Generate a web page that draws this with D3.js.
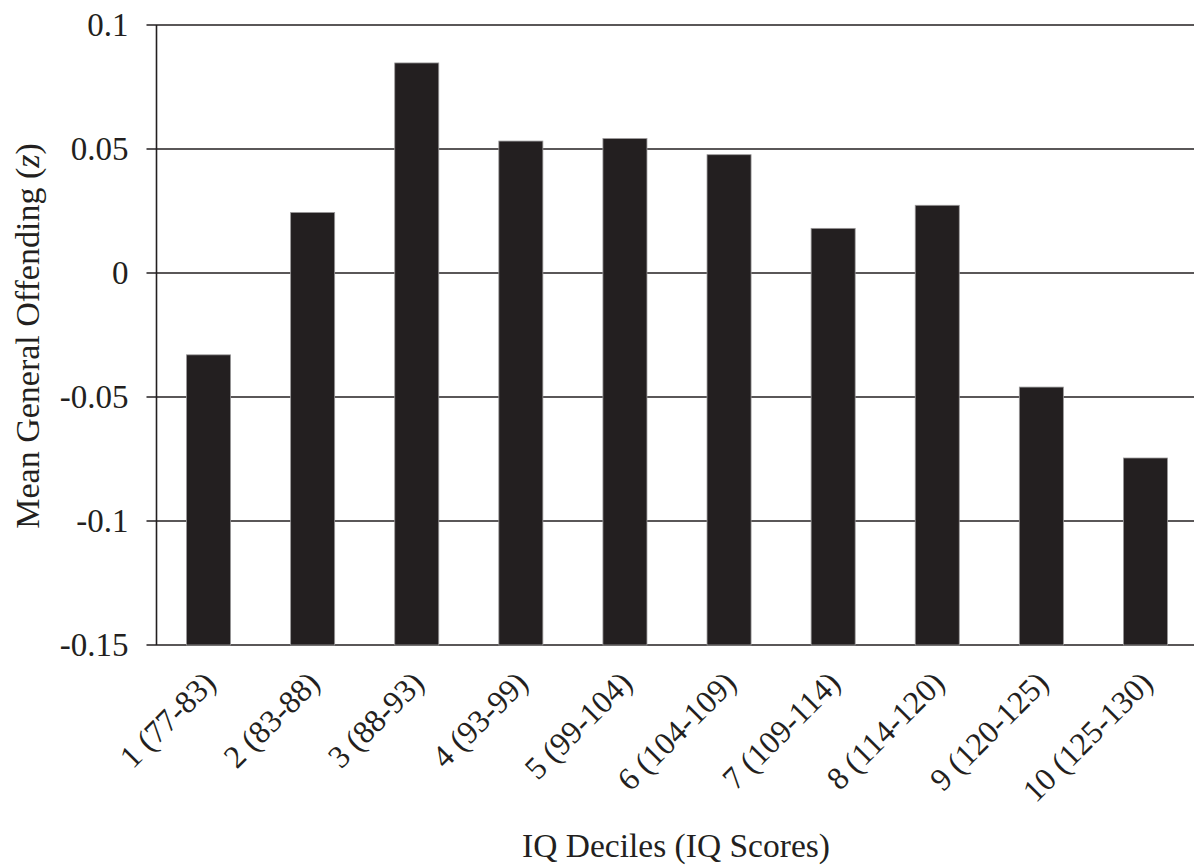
<!DOCTYPE html>
<html>
<head>
<meta charset="utf-8">
<script src="https://cdn.jsdelivr.net/npm/d3@7"></script>
<style>
  html, body { margin: 0; padding: 0; background: #fff; }
  svg { display: block; }
  text { font-family: "Liberation Serif", "DejaVu Serif", serif; fill: #231f20; }
</style>
</head>
<body>
<svg id="chart" width="1194" height="865"></svg>
<script>
// Mean general offending (z-score) by IQ decile
const deciles = ["1 (77-83)", "2 (83-88)", "3 (88-93)", "4 (93-99)", "5 (99-104)",
                 "6 (104-109)", "7 (109-114)", "8 (114-120)", "9 (120-125)", "10 (125-130)"];
const meanOffending = [-0.033, 0.0244, 0.0847, 0.0532, 0.0542, 0.0477, 0.018, 0.0273, -0.046, -0.0746];
const yTicks = [-0.15, -0.1, -0.05, 0, 0.05, 0.1];
const yTickLabels = ["-0.15", "-0.1", "-0.05", "0", "0.05", "0.1"];

const ink = "#231f20";
const svg = d3.select("#chart");
const plotLeft = 156.5, plotRight = 1197.5, plotTop = 25, plotBottom = 645;

const x = d3.scaleBand()
  .domain(deciles)
  .range([plotLeft, plotRight])
  .paddingInner(0.577)
  .paddingOuter(0.2885);

const y = d3.scaleLinear()
  .domain([-0.15, 0.1])
  .range([plotBottom, plotTop]);

// horizontal gridlines with short ticks left of the axis
svg.append("g")
  .selectAll("line")
  .data(yTicks)
  .join("line")
  .attr("x1", plotLeft - 10)
  .attr("x2", 1194)
  .attr("y1", d => y(d))
  .attr("y2", d => y(d))
  .attr("stroke", ink)
  .attr("stroke-width", 1.6);

// y axis line
svg.append("line")
  .attr("x1", plotLeft).attr("x2", plotLeft)
  .attr("y1", y(0.1)).attr("y2", y(-0.15))
  .attr("stroke", ink)
  .attr("stroke-width", 1.6);

// y tick labels
svg.append("g")
  .selectAll("text")
  .data(yTicks)
  .join("text")
  .attr("x", plotLeft - 28)
  .attr("y", d => y(d))
  .attr("dy", "0.34em")
  .attr("text-anchor", "end")
  .attr("font-size", 33)
  .text((d, i) => yTickLabels[i]);

// bars rise from the bottom of the axis
svg.append("g")
  .selectAll("rect")
  .data(meanOffending)
  .join("rect")
  .attr("x", (d, i) => x(deciles[i]))
  .attr("width", x.bandwidth())
  .attr("y", d => y(d))
  .attr("height", d => y(-0.15) - y(d))
  .attr("fill", ink)
  .attr("stroke", "#9a9899")
  .attr("stroke-width", 0.8);

// rotated category labels
svg.append("g")
  .selectAll("text")
  .data(deciles)
  .join("text")
  .attr("transform", d => `translate(${x(d) + x.bandwidth() / 2 + 9},${plotBottom + 40}) rotate(-45)`)
  .attr("text-anchor", "end")
  .attr("font-size", 32)
  .text(d => d);

// axis titles
svg.append("text")
  .attr("x", 676)
  .attr("y", 857)
  .attr("text-anchor", "middle")
  .attr("font-size", 33.5)
  .text("IQ Deciles (IQ Scores)");

const yTitle = svg.append("text")
  .attr("transform", `translate(39,336) rotate(-90)`)
  .attr("text-anchor", "middle")
  .attr("font-size", 34);
yTitle.append("tspan").text("Mean General Offending (");
yTitle.append("tspan").attr("font-style", "italic").text("z");
yTitle.append("tspan").text(")");
</script>
</body>
</html>
